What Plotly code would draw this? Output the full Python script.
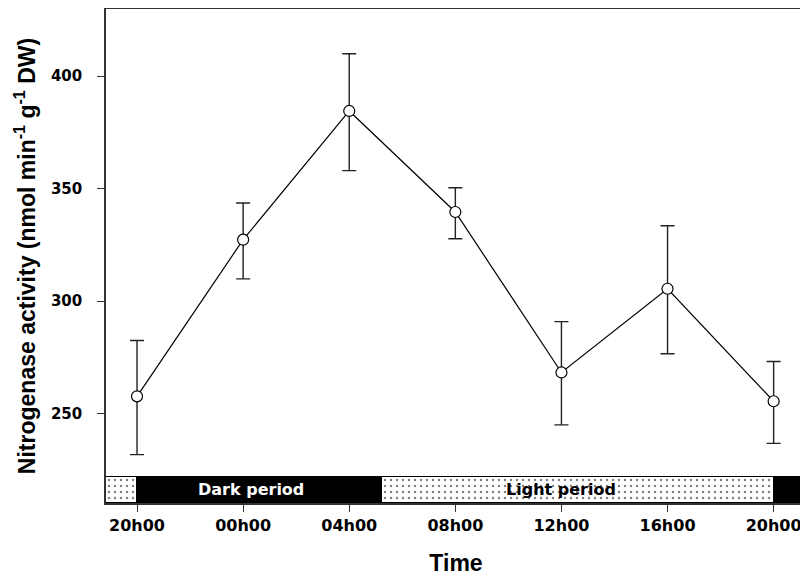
import plotly.graph_objects as go

# ---- data ----
hours = [0, 4, 8, 12, 16, 20, 24]
tick_labels = ["20h00", "00h00", "04h00", "08h00", "12h00", "16h00", "20h00"]
activity = [257.7, 327.3, 384.5, 339.6, 268.3, 305.5, 255.5]
err_upper = [24.8, 16.3, 25.4, 10.8, 22.6, 28.0, 17.7]
err_lower = [25.9, 17.4, 26.5, 11.9, 23.3, 28.9, 18.7]

y_tick_vals = [250, 300, 350, 400]

period_start = [-1.3, 0, 9.25, 24]
period_end = [0, 9.25, 24, 25.4]
period_kind = ["light", "dark", "light", "dark"]
period_label = ["Dark period", "Light period"]
period_label_pos = [4.3, 16.0]

y_range = [210.3, 429.8]
x_range = [-1.17, 25.22]
band_bottom, band_top = 210.3, 221.9

ARIAL = "Liberation Sans, Arial, sans-serif"
WIDE = "DejaVu Sans, Liberation Sans, sans-serif"

fig = go.Figure()

# period band (horizontal bars)
for s, e, k in zip(period_start, period_end, period_kind):
    if k == "dark":
        marker = dict(color="black", line=dict(color="black", width=1))
    else:
        marker = dict(color="white", line=dict(color="black", width=1),
                      pattern=dict(shape=".", fgcolor="black", bgcolor="white",
                                   size=6, solidity=0.12))
    fig.add_trace(go.Bar(
        orientation="h", y=[(band_bottom + band_top) / 2], x=[e - s], base=[s],
        width=band_top - band_bottom, marker=marker, showlegend=False,
        hoverinfo="skip"))

fig.add_trace(go.Scatter(
    x=hours, y=activity, mode="lines+markers",
    line=dict(color="black", width=1.2),
    marker=dict(symbol="circle", size=11, color="white",
                line=dict(color="black", width=1.2)),
    error_y=dict(type="data", symmetric=False, array=err_upper,
                 arrayminus=err_lower, color="#222222", thickness=1.4, width=7),
    showlegend=False))

fig.add_annotation(x=period_label_pos[0], y=(band_bottom + band_top) / 2,
                   text="<b>%s</b>" % period_label[0], showarrow=False,
                   font=dict(family=WIDE, size=16, color="white"))
fig.add_annotation(x=period_label_pos[1], y=(band_bottom + band_top) / 2,
                   text="<b>%s</b>" % period_label[1], showarrow=False,
                   font=dict(family=WIDE, size=16, color="black"))

fig.update_layout(
    width=800, height=572,
    margin=dict(l=98, r=2, t=1, b=77),
    plot_bgcolor="white", paper_bgcolor="white",
    barmode="overlay", bargap=0,
    font=dict(family=ARIAL, color="black"),
    xaxis=dict(range=x_range, tickmode="array", tickvals=hours,
               ticktext=["<b>%s</b>" % t for t in tick_labels],
               ticks="outside", ticklen=7, tickwidth=1.3, tickcolor="#333",
               showline=True, linecolor="#333", linewidth=1.5, mirror=True,
               showgrid=False, zeroline=False, automargin=False,
               tickfont=dict(family=WIDE, size=16, color="black"),
               title=dict(text="<b>Time</b>", font=dict(family=ARIAL, size=23),
                          standoff=21)),
    yaxis=dict(range=y_range, tickmode="array", tickvals=y_tick_vals,
               ticktext=["<b>%d</b>" % v for v in y_tick_vals],
               ticks="outside", ticklen=7, tickwidth=1.3, tickcolor="#333",
               showline=True, linecolor="#333", linewidth=1.5, mirror=True,
               showgrid=False, zeroline=False, automargin=False,
               ticklabelstandoff=12,
               tickfont=dict(family=WIDE, size=15, color="black"),
               title=dict(text="<b>Nitrogenase activity (nmol min<sup>-1</sup> g<sup>-1</sup> DW)</b>",
                          font=dict(family=ARIAL, size=23), standoff=9)),
)

fig.write_html("out.html")
